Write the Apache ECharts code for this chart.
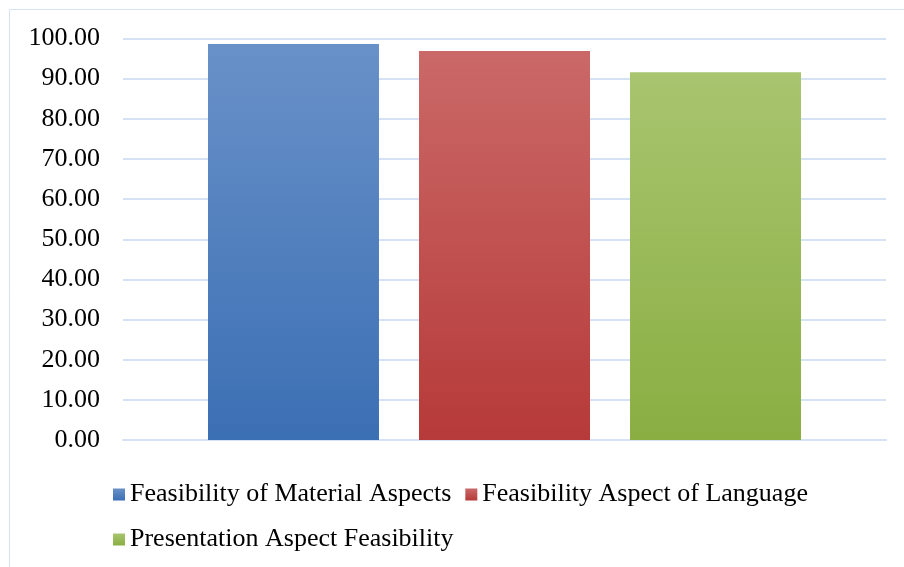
<!DOCTYPE html>
<html>
<head>
<meta charset="utf-8">
<script src="https://cdn.jsdelivr.net/npm/echarts@6/dist/echarts.min.js"></script>
<style>
  html, body { margin: 0; padding: 0; background: #ffffff; }
  #chart { width: 904px; height: 567px; }
</style>
</head>
<body>
<div id="chart"></div>
<script>
// Feasibility scores (percent)
const categories = [''];
const seriesNames = [
  'Feasibility of Material Aspects',
  'Feasibility Aspect of Language',
  'Presentation Aspect Feasibility'
];
const materialValues = [98.6];
const languageValues = [96.9];
const presentationValues = [91.6];
const yTicks = { min: 0, max: 100, interval: 10 };

// top/bottom gradient colours per series
const palette = [
  ['#6991c8', '#3b6fb4'],
  ['#ca6968', '#b63a39'],
  ['#a8c56f', '#8aae42']
];

const font = '"Liberation Serif", "Times New Roman", serif';

function grad(c) {
  return new echarts.graphic.LinearGradient(0, 0, 0, 1, [
    { offset: 0, color: c[0] },
    { offset: 1, color: c[1] }
  ]);
}

const valueSets = [materialValues, languageValues, presentationValues];

const chart = echarts.init(document.getElementById('chart'), null, { renderer: 'canvas' });
chart.setOption({
  animation: false,
  backgroundColor: '#ffffff',
  graphic: [{
    type: 'rect',
    shape: { x: 9.5, y: 9.5, width: 1000, height: 1000 },
    style: { fill: 'none', stroke: '#d5e2f3', lineWidth: 1 },
    silent: true
  }],
  grid: { left: 123, right: 18, top: 38.5, bottom: 127, containLabel: false },
  xAxis: {
    type: 'category',
    data: categories,
    axisLine: { show: true, lineStyle: { color: '#d5e2f3', width: 2 } },
    axisTick: { show: false },
    axisLabel: { show: false },
    splitLine: { show: false }
  },
  yAxis: {
    type: 'value',
    min: yTicks.min,
    max: yTicks.max,
    interval: yTicks.interval,
    axisLine: { show: false },
    axisTick: { show: false },
    axisLabel: {
      formatter: v => v.toFixed(2),
      fontFamily: font,
      fontSize: 26,
      color: '#000000',
      margin: 23
    },
    splitLine: { lineStyle: { color: '#d5e2f3', width: 2 } }
  },
  legend: {
    left: 108,
    top: 474,
    width: 760,
    itemWidth: 12,
    itemHeight: 12,
    itemGap: 14,
    icon: 'rect',
    textStyle: { fontFamily: font, fontSize: 26, color: '#000000', lineHeight: 31 },
    data: seriesNames
  },
  series: seriesNames.map((name, i) => ({
    name,
    type: 'bar',
    data: valueSets[i],
    barWidth: 171,
    barGap: '23.4%',
    itemStyle: { color: grad(palette[i]) }
  }))
});
</script>
</body>
</html>
